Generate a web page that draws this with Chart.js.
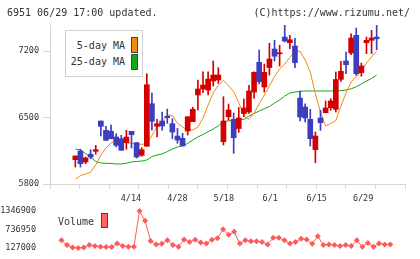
<!DOCTYPE html>
<html><head><meta charset="utf-8">
<script src="https://cdn.jsdelivr.net/npm/chart.js@4/dist/chart.umd.min.js"></script>
<style>
html,body{margin:0;padding:0;background:#fff;width:420px;height:259px;overflow:hidden;font-family:"DejaVu Sans Mono",monospace;color:#333;}
.t{position:absolute;font-size:10px;line-height:10px;white-space:nowrap;}
#c1w{position:absolute;left:0;top:0;width:420px;height:205px;}
#c2w{position:absolute;left:0;top:200px;width:420px;height:59px;}
#leg{position:absolute;left:65px;top:30px;width:78px;height:47px;box-sizing:border-box;border:1px solid #cfcfcf;background:#fff;}
.sw{position:absolute;width:7px;height:16px;box-sizing:border-box;border:1px solid #444;}
</style></head><body>
<div id="c1w"><canvas id="c1" width="420" height="205"></canvas></div>
<div id="c2w"><canvas id="c2" width="420" height="59"></canvas></div>
<div class="t" style="left:7px;top:8px;">6951 06/29 17:00 updated.</div>
<div class="t" style="right:10px;top:8px;">(C)https://www.rizumu.net/</div>
<div id="leg"></div>
<div class="t" style="right:295px;top:40.5px;">5-day MA</div>
<div class="sw" style="left:131px;top:37px;background:#f08c0a;"></div>
<div class="t" style="right:295px;top:57px;">25-day MA</div>
<div class="sw" style="left:131px;top:54px;background:#12a812;"></div>
<div class="t" style="left:58px;top:217px;">Volume</div>
<div class="sw" style="left:101px;top:213px;height:15px;background:#ff6464;"></div>
<script>
const dates = ['4/1','4/2','4/3','4/6','4/7','4/8','4/9','4/10','4/13','4/14','4/15','4/16','4/17','4/20','4/21','4/22','4/23','4/24','4/27','4/28','4/30','5/1','5/7','5/8','5/11','5/12','5/13','5/14','5/15','5/18','5/19','5/20','5/21','5/22','5/25','5/26','5/27','5/28','5/29','6/1','6/2','6/3','6/4','6/5','6/8','6/9','6/10','6/11','6/12','6/15','6/16','6/17','6/18','6/19','6/22','6/23','6/24','6/25','6/26','6/29'];
const open  = [6056,6147,6032,6113,6144,6463,6365,6355,6295,6277,6235,6355,6235,6102,6197,6645,6407,6463,6513,6435,6305,6281,6358,6456,6737,6800,6789,6884,6895,6245,6508,6481,6384,6542,6558,6768,7081,6821,7026,7221,7171,7347,7287,7253,6705,6611,6481,6161,6495,6550,6603,6586,6902,7095,7179,7365,6972,7287,7313,7347];
const high  = [6095,6165,6084,6161,6207,6463,6407,6421,6330,6313,6365,6355,6235,6182,6961,6758,6481,6558,6589,6487,6386,6334,6508,6607,6895,6982,6982,7095,7024,6719,6642,6547,6605,6695,6839,6982,7211,7063,7282,7313,7260,7474,7365,7334,6779,6645,6586,6347,6576,6674,6698,6979,7092,7189,7382,7442,7074,7347,7418,7470];
const low   = [5979,5979,6014,6066,6113,6305,6260,6274,6190,6155,6165,6179,6074,6092,6197,6368,6295,6368,6439,6277,6228,6200,6316,6456,6579,6761,6737,6832,6860,6211,6474,6123,6344,6508,6542,6700,6853,6768,6947,7095,7042,7295,7224,7024,6463,6453,6200,6024,6365,6550,6576,6558,6881,6961,7161,6944,6934,7172,7172,7214];
const close = [6095,6014,6074,6084,6161,6407,6260,6277,6207,6155,6295,6319,6084,6161,6845,6460,6435,6411,6498,6347,6263,6200,6508,6586,6800,6842,6905,6947,6947,6463,6579,6287,6495,6600,6779,6976,6877,6976,7116,7145,7182,7305,7319,7077,6505,6495,6277,6305,6445,6600,6674,6900,6986,7056,7337,6961,7042,7313,7337,7329];
const ma5   = [5849,5889,5905,5926,6000,6105,6179,6232,6253,6253,6235,6228,6221,6218,6221,6311,6405,6453,6526,6521,6439,6400,6368,6368,6400,6495,6632,6758,6839,6892,6832,6774,6658,6516,6481,6547,6645,6737,6832,6932,7010,7063,7132,7195,7197,7105,6979,6750,6558,6411,6437,6468,6621,6758,6874,6932,6989,7074,7137,7200];
const ma25  = [6168,6158,6121,6084,6037,6021,6018,6016,6011,6011,6018,6032,6037,6042,6053,6089,6105,6116,6142,6168,6189,6205,6226,6263,6295,6321,6351,6379,6411,6456,6465,6471,6476,6481,6516,6542,6568,6592,6616,6653,6684,6726,6758,6768,6776,6779,6779,6779,6779,6779,6779,6779,6784,6789,6802,6823,6853,6884,6911,6947];
const volume = [377000,221000,137000,127000,137000,221000,190000,168000,158000,158000,274000,190000,168000,168000,1346900,1025000,355000,243000,262000,377000,221000,168000,409000,324000,399000,305000,274000,399000,450000,743000,565000,659000,274000,377000,346000,346000,324000,243000,461000,461000,377000,274000,324000,430000,409000,262000,512000,221000,243000,221000,190000,221000,190000,377000,168000,293000,168000,274000,243000,243000];
const tickLabels = ['4/14','4/28','5/18','6/1','6/15','6/29'];
const priceTicks = [5800,6500,7200];
const volumeTicks = [127000,736950,1346900];

const UP = '#d40000', DOWN = '#3d3dc0';
const AX = '#d6d6d6';
const FONT = {family:'"DejaVu Sans Mono", monospace', size:8.5};
const xMin = -2.06, xMax = 61.65;
const idx = dates.map((d,i)=>i);
const col = i => close[i] >= open[i] ? UP : DOWN;

new Chart(document.getElementById('c1'), {
  type:'bar',
  data:{datasets:[
    {type:'bar', data: idx.map(i=>({x:i, y:[open[i], close[i]]})), backgroundColor: c=>col(c.dataIndex), barThickness:5, minBarLength:1, grouped:false, order:0, borderWidth:0},
    {type:'bar', data: idx.map(i=>({x:i, y:[low[i], high[i]]})), backgroundColor: c=>col(c.dataIndex), barThickness:1, grouped:false, order:1, borderWidth:0},
    {type:'line', data: idx.map(i=>({x:i, y:ma5[i]})), borderColor:'#f08c0a', borderWidth:1, pointRadius:0, tension:0, order:2, clip:false},
    {type:'line', data: idx.map(i=>({x:i, y:ma25[i]})), borderColor:'#12a812', borderWidth:1, pointRadius:0, tension:0, order:3, clip:false}
  ]},
  options:{
    responsive:false, animation:false, devicePixelRatio:1,
    layout:{padding:{top:25,right:15,left:0,bottom:0}},
    plugins:{legend:{display:false}, tooltip:{enabled:false}},
    scales:{
      x:{type:'linear', min:xMin, max:xMax, position:'bottom', weight:0,
        afterBuildTicks:s=>{ s.ticks = Array.from({length:12},(_,k)=>({value:xMin + k*(xMax-xMin)/11})); },
        ticks:{display:false},
        grid:{drawOnChartArea:false, drawTicks:true, tickLength:5, color:AX},
        border:{color:AX},
        afterFit:s=>{ s.height = 5; }
      },
      x2:{type:'linear', min:xMin, max:xMax, position:'bottom', weight:1,
        afterBuildTicks:s=>{ s.ticks = tickLabels.map(l=>({value:dates.indexOf(l)})); },
        ticks:{callback:v=>dates[v], font:FONT, color:'#333', padding:-3, maxRotation:0, autoSkip:false},
        grid:{display:false}, border:{display:false},
        afterFit:s=>{ s.height = 16; }
      },
      y:{min:5800, max:7474,
        afterBuildTicks:s=>{ s.ticks = priceTicks.map(v=>({value:v})); },
        ticks:{font:FONT, color:'#333', padding:4, callback:v=>String(v)},
        grid:{drawOnChartArea:false, tickLength:7, color:AX},
        border:{color:AX},
        afterFit:s=>{ s.width = 50; }
      }
    }
  }
});

new Chart(document.getElementById('c2'), {
  type:'line',
  data:{datasets:[
    {data: idx.map(i=>({x:i, y:volume[i]})), borderColor:'#ff5a5a', borderWidth:1, pointStyle:'rectRot', pointRadius:3, pointBackgroundColor:'#ff5a5a', pointBorderWidth:0, tension:0, clip:false}
  ]},
  options:{
    responsive:false, animation:false, devicePixelRatio:1,
    layout:{padding:{top:9,right:15,left:0,bottom:11}},
    plugins:{legend:{display:false}, tooltip:{enabled:false}},
    scales:{
      x:{type:'linear', min:xMin, max:xMax, display:false},
      y:{min:127000, max:1346900,
        afterBuildTicks:s=>{ s.ticks = volumeTicks.map(v=>({value:v})); },
        ticks:{font:FONT, color:'#333', padding:6, callback:v=>String(v)},
        grid:{display:false}, border:{display:false},
        afterFit:s=>{ s.width = 50; }
      }
    }
  }
});
</script>
</body></html>
